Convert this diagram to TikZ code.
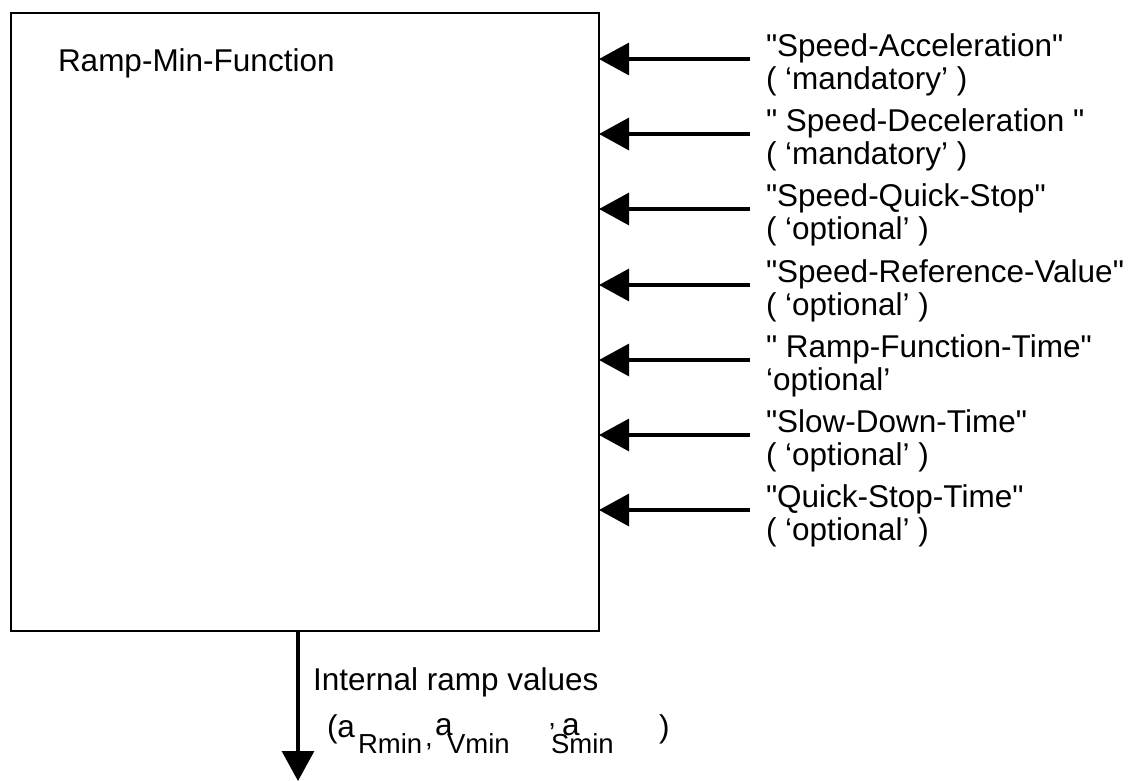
\documentclass[tikz,border=0pt]{standalone}
\usepackage{fontspec}
\setmainfont{Liberation Sans}
\usetikzlibrary{arrows.meta}
\newcommand{\dq}{\textquotedbl}
\tikzset{
  lbl/.style={anchor=base west, inner sep=0pt, outer sep=0pt, font=\fontsize{31.5}{34}\selectfont},
  sub/.style={anchor=base west, inner sep=0pt, outer sep=0pt, font=\fontsize{27.5}{30}\selectfont},
  inarrow/.style={line width=3.2pt, -{Triangle[length=30pt,width=32pt]}},
  boxstyle/.style={draw, line width=2.8pt, inner sep=0pt, outer sep=0pt, anchor=north west,
    minimum width=588pt, minimum height=618pt}
}
\begin{document}
\begin{tikzpicture}[x=1pt,y=-1pt]
\useasboundingbox (0,0) rectangle (1133,781);
\node[boxstyle] (box) at (11,13) {};
\node[lbl] (title) at (58,72) {Ramp-Min-Function};
% input arrows
\foreach \i/\y in {1/59,2/134,3/209,4/285,5/360,6/435,7/510}{
  \coordinate (s\i) at (750,\y);
  \draw[inarrow] (s\i) -- (s\i -| box.east);
}
\node[lbl] (a1) at (766,56.5) {\dq Speed-Acceleration\dq};
\node[lbl] (b1) at (766,89.5) {( ‘mandatory’ )};
\node[lbl] (a2) at (766,131.5) {\dq{} Speed-Deceleration \dq};
\node[lbl] (b2) at (766,164.5) {( ‘mandatory’ )};
\node[lbl] (a3) at (766,206.5) {\dq Speed-Quick-Stop\dq};
\node[lbl] (b3) at (766,239.5) {( ‘optional’ )};
\node[lbl] (a4) at (766,282.5) {\dq Speed-Reference-Value\dq};
\node[lbl] (b4) at (766,315.5) {( ‘optional’ )};
\node[lbl] (a5) at (766,357.5) {\dq{} Ramp-Function-Time\dq};
\node[lbl] (b5) at (766,390.5) {‘optional’};
\node[lbl] (a6) at (766,432.5) {\dq Slow-Down-Time\dq};
\node[lbl] (b6) at (766,465.5) {( ‘optional’ )};
\node[lbl] (a7) at (766,507.5) {\dq Quick-Stop-Time\dq};
\node[lbl] (b7) at (766,540.5) {( ‘optional’ )};
% output arrow
\coordinate (oe) at (298,781);
\coordinate (os) at (box.south -| oe);
\draw[inarrow] (os) -- (oe);
\node[lbl] (out) at (313,690) {Internal ramp values};
\node[lbl] (p1) at (327,737) {(a};
\node[sub] (r1) at (358,753) {Rmin};
\node[sub] (c1) at (425,746) {,};
\node[lbl] (p2) at (435,735) {a};
\node[sub] (r2) at (447,753) {Vmin};
\node[sub] (c2) at (549,742) {’};
\node[sub] (r3) at (551,753) {Smin};
\node[lbl] (p3) at (562,735) {a};
\node[lbl] (p4) at (659,737) {)};
\end{tikzpicture}
\end{document}
